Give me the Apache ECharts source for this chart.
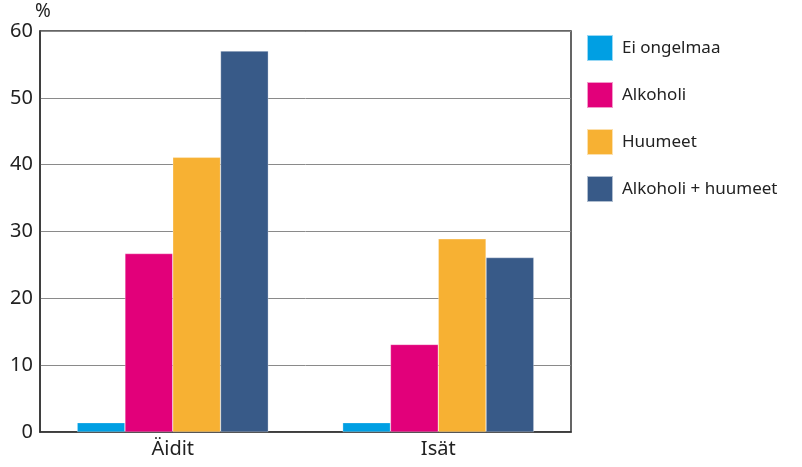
<!DOCTYPE html>
<html><head><meta charset="utf-8">
<script src="https://cdn.jsdelivr.net/npm/echarts@6/dist/echarts.min.js"></script>
<style>html,body{margin:0;padding:0;background:#fff}#c{width:802px;height:467px}</style>
</head><body><div id="c"></div>
<script>
const categories = ['Äidit', 'Isät'];
const seriesNames = ['Ei ongelmaa', 'Alkoholi', 'Huumeet', 'Alkoholi + huumeet'];
const eiOngelmaa = [1.4, 1.4];
const alkoholi = [26.7, 13.1];
const huumeet = [41.1, 28.9];
const alkoholiHuumeet = [57.0, 26.1];
const yTicks = [0, 10, 20, 30, 40, 50, 60];
const colors = ['#009fe3', '#e2007a', '#f7b133', '#385a88'];
const values = [eiOngelmaa, alkoholi, huumeet, alkoholiHuumeet];
const font = 'Noto Sans';
const chart = echarts.init(document.getElementById('c'));
chart.setOption({
  animation: false,
  textStyle: {fontFamily: font},
  grid: {left: 40, right: 231, top: 31, bottom: 35, show: true, borderColor: '#333', borderWidth: 1.5},
  legend: {
    orient: 'vertical', left: 586, top: 34, padding: 0, itemWidth: 26, itemHeight: 26, itemGap: 19,
    icon: 'rect', textStyle: {fontSize: 17, color: '#222', fontFamily: font, padding: [0,0,0,4], lineHeight: 24},
    data: seriesNames
  },
  xAxis: {
    type: 'category', data: categories,
    axisLine: {lineStyle: {color: '#333', width: 1.5}},
    axisTick: {show: false},
    axisLabel: {fontSize: 20, color: '#222', margin: 7}
  },
  yAxis: {
    type: 'value', min: 0, max: 60, interval: 10,
    name: '%', nameLocation: 'end', nameGap: -2,
    nameTextStyle: {fontSize: 19, color: '#222', align: 'left', padding: [0,0,0,-5]},
    axisLine: {show: true, lineStyle: {color: '#333', width: 1.5}},
    axisTick: {show: false},
    axisLabel: {fontSize: 20, color: '#222', margin: 7, formatter: v => yTicks.includes(v) ? String(v) : ''},
    splitLine: {lineStyle: {color: '#8a8a8a', width: 1}}
  },
  series: seriesNames.map((n, i) => ({
    name: n, type: 'bar', data: values[i], barGap: '0%', barCategoryGap: '28%',
    itemStyle: {color: colors[i], borderColor: 'rgba(255,255,255,0.6)', borderWidth: 0.5}
  }))
});
</script></body></html>
